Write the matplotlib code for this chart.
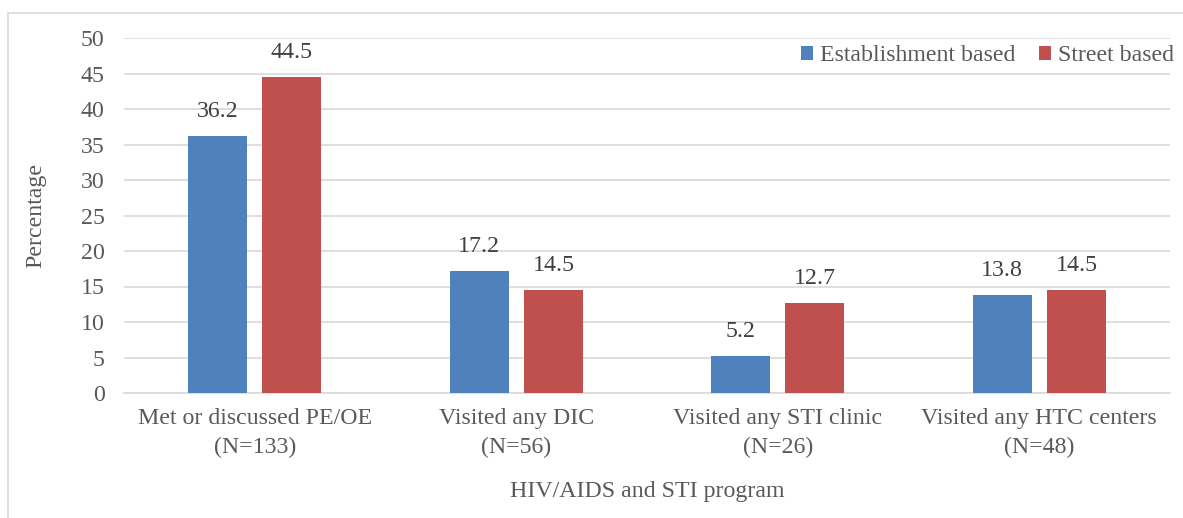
import matplotlib.pyplot as plt
import numpy as np
from matplotlib.patches import Rectangle

plt.rcParams['font.family'] = ['Liberation Serif', 'DejaVu Serif']

categories = ['Met or discussed PE/OE\n(N=133)', 'Visited any DIC\n(N=56)',
              'Visited any STI clinic\n(N=26)', 'Visited any HTC centers\n(N=48)']
establishment = [36.2, 17.2, 5.2, 13.8]
street = [44.5, 14.5, 12.7, 14.5]

blue = '#4f81bd'
red = '#c0504d'
txt = '#595959'
fs = 17.2

fig = plt.figure(figsize=(11.83, 5.18), dpi=100)
ax = fig.add_axes([124 / 1183, 1 - 393 / 518, (1170 - 124) / 1183, (393 - 38) / 518])

# outer frame (only left/top visible in the original)
fig.patches.append(Rectangle((8 / 1183, -0.1), 1.2, 1 - 13 / 518 + 0.1,
                             transform=fig.transFigure, fill=False,
                             edgecolor='#d9d9d9', lw=1.2))

x = np.arange(len(categories))
w = 0.226
off = 0.142
b1 = ax.bar(x - off, establishment, w, color=blue, label='Establishment based', zorder=3)
b2 = ax.bar(x + off, street, w, color=red, label='Street based', zorder=3)

for bars, vals in [(b1, establishment), (b2, street)]:
    for r, v in zip(bars, vals):
        ax.text(r.get_x() + r.get_width() / 2, v + 2.0, f'{v:.1f}',
                ha='center', va='bottom', fontsize=fs, color='#404040')

ax.set_xlim(-0.5, 3.5)
ax.set_ylim(0, 50)
ax.set_yticks(range(0, 51, 5))
ax.yaxis.grid(True, color='#d9d9d9', lw=1.2, zorder=0)
ax.set_axisbelow(True)
for s in ['top', 'right', 'left']:
    ax.spines[s].set_visible(False)
ax.spines['bottom'].set_color('#d9d9d9')
ax.spines['bottom'].set_linewidth(1.2)
ax.tick_params(axis='both', length=0, labelsize=fs, colors=txt)
ax.tick_params(axis='y', pad=14)
ax.tick_params(axis='x', pad=11)
ax.set_xticks(x)
ax.set_xticklabels(categories, linespacing=1.45)

ax.set_ylabel('Percentage', fontsize=fs, color=txt, va='center')
ax.yaxis.set_label_coords((36 - 124) / 1046, 0.5)
ax.set_xlabel('HIV/AIDS and STI program', fontsize=fs, color=txt, va='center')
ax.xaxis.set_label_coords(0.5, -(492 - 393) / 355)

ax.legend(loc='center right', bbox_to_anchor=(1.004, 0.95), ncol=2, frameon=False,
          fontsize=fs, labelcolor=txt, handlelength=0.5, handleheight=0.5,
          handletextpad=0.3, columnspacing=1.0, borderaxespad=0, borderpad=0)

fig.savefig('out.png', dpi=100)
